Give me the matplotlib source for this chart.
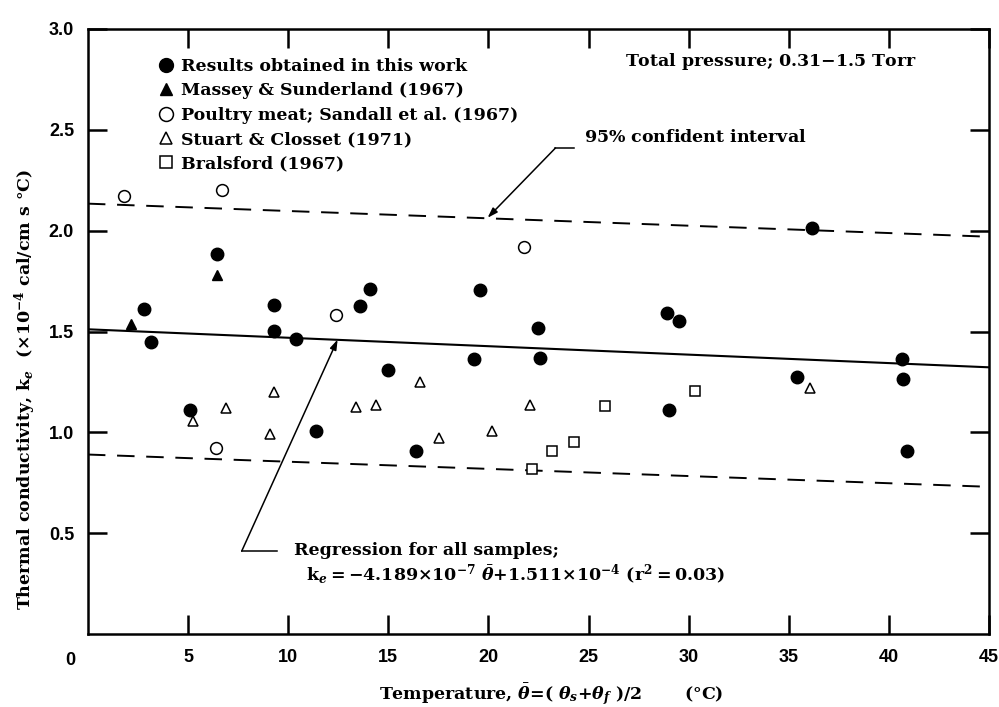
import matplotlib
matplotlib.use("Agg")
import matplotlib.pyplot as plt
import numpy as np
from matplotlib.lines import Line2D

# --- data ---
# results obtained in this work (filled circles)
res_x = [2.8, 3.15, 5.1, 6.44, 9.27, 9.27, 10.38, 11.4, 13.6, 14.07, 15.0, 16.4,
         19.3, 19.57, 22.5, 22.56, 28.94, 29.04, 29.54, 35.43, 36.18, 40.67, 40.72, 40.92]
res_y = [1.614, 1.446, 1.11, 1.886, 1.63, 1.505, 1.465, 1.005, 1.625, 1.713, 1.31, 0.91,
         1.366, 1.708, 1.515, 1.37, 1.594, 1.11, 1.554, 1.272, 2.015, 1.366, 1.267, 0.906]

# Massey & Sunderland (filled triangles)
mas_x = [2.15, 6.44]
mas_y = [1.535, 1.78]

# Poultry meat; Sandall et al. (open circles)
pou_x = [1.8, 6.4, 6.69, 12.4, 21.8]
pou_y = [2.173, 0.92, 2.2, 1.584, 1.92]

# Stuart & Closset (open triangles)
stu_x = [5.27, 6.9, 9.1, 9.3, 13.4, 14.4, 16.6, 17.55, 20.2, 22.1, 36.08]
stu_y = [1.054, 1.12, 0.99, 1.2, 1.124, 1.134, 1.25, 0.97, 1.005, 1.134, 1.218]

# Bralsford (open squares)
bra_x = [22.2, 23.2, 24.25, 25.8, 30.3]
bra_y = [0.82, 0.91, 0.95, 1.13, 1.203]

# regression  k_e = -4.189e-7*theta + 1.511e-4  (in units of 1e-4)
reg_slope = -4.189e-3
reg_icpt = 1.511

# 95% confidence band end points (x = 0 and x = 45)
band_x = [0, 45]
band_upper = [2.134, 1.97]
band_lower = [0.89, 0.73]

xticks = [5, 10, 15, 20, 25, 30, 35, 40, 45]
yticks = [0.5, 1.0, 1.5, 2.0, 2.5, 3.0]

FONT = ["DejaVu Serif"]
TICKFONT = ["Liberation Sans", "DejaVu Sans"]
FS = 12.5
plt.rcParams["font.family"] = FONT
plt.rcParams["font.weight"] = "bold"
plt.rcParams["mathtext.fontset"] = "dejavuserif"

fig = plt.figure(figsize=(9.99, 7.07), dpi=100)
ax = fig.add_axes([0.088, 0.1032, 0.902, 0.8558])

ax.set_xlim(0, 45)
ax.set_ylim(0, 3.0)

xr = np.array(band_x)
ax.plot(xr, reg_icpt + reg_slope * xr, color="black", lw=1.5)
ax.plot(band_x, band_upper, color="black", lw=1.4, dashes=(9, 6))
ax.plot(band_x, band_lower, color="black", lw=1.4, dashes=(9, 6))

ax.plot(res_x, res_y, "o", color="black", ms=9, ls="none")
ax.plot(mas_x, mas_y, "^", color="black", ms=7, ls="none")
ax.plot(pou_x, pou_y, "o", mfc="white", mec="black", mew=1.1, ms=8.5, ls="none")
ax.plot(stu_x, stu_y, "^", mfc="white", mec="black", mew=1.1, ms=7.5, ls="none")
ax.plot(bra_x, bra_y, "s", mfc="white", mec="black", mew=1.1, ms=7, ls="none")

# legend
handles = [
    Line2D([], [], marker="o", color="black", ls="none", ms=10),
    Line2D([], [], marker="^", color="black", ls="none", ms=8),
    Line2D([], [], marker="o", mfc="white", mec="black", mew=1.1, ls="none", ms=10),
    Line2D([], [], marker="^", mfc="white", mec="black", mew=1.1, ls="none", ms=8.5),
    Line2D([], [], marker="s", mfc="white", mec="black", mew=1.1, ls="none", ms=8.5),
]
labels = ["Results obtained in this work",
          "Massey & Sunderland (1967)",
          "Poultry meat; Sandall et al. (1967)",
          "Stuart & Closset (1971)",
          "Bralsford (1967)"]
ax.legend(handles, labels, loc="upper left", bbox_to_anchor=(0.08, 0.952),
          frameon=False, fontsize=FS, handlelength=0.7, handletextpad=0.5,
          labelspacing=0.42, borderpad=0, borderaxespad=0)

# annotations
ax.text(26.8, 2.84, "Total pressure; 0.31$-$1.5 Torr", fontsize=FS, va="center")

ax.text(24.75, 2.46, "95$\\%$ confident interval", fontsize=FS, va="center")
ax.plot([24.25, 23.35], [2.41, 2.41], color="black", lw=1.1)
ax.annotate("", xy=(19.96, 2.064), xytext=(23.35, 2.41),
            arrowprops=dict(arrowstyle="-|>,head_length=0.6,head_width=0.2",
                            color="black", lw=1.1, shrinkA=0, shrinkB=0))

ax.text(10.28, 0.416, "Regression for all samples;", fontsize=FS, va="center")
ax.text(10.88, 0.30,
        "k$_e$$=$$-$4.189$\\times$10$^{-7}$ $\\bar{\\theta}$$+$1.511$\\times$10$^{-4}$ "
        "(r$^2$$=$0.03)", fontsize=FS, va="center")
ax.plot([9.43, 7.68], [0.411, 0.411], color="black", lw=1.1)
ax.annotate("", xy=(12.47, 1.46), xytext=(7.68, 0.411),
            arrowprops=dict(arrowstyle="-|>,head_length=0.6,head_width=0.2",
                            color="black", lw=1.1, shrinkA=0, shrinkB=0))

# axes styling
ax.set_xticks(xticks)
ax.set_yticks(yticks)
ax.set_xticklabels([str(t) for t in xticks], family=TICKFONT)
ax.set_yticklabels(["%.1f" % t for t in yticks], family=TICKFONT)
ax.tick_params(direction="in", length=14, width=1.8, top=True, right=True,
               labelsize=13, pad=11)
ax.tick_params(axis="y", pad=10)
for s in ax.spines.values():
    s.set_linewidth(1.8)
ax.text(-0.9, -0.03, "0", transform=ax.get_xaxis_transform(), ha="center",
        va="top", fontsize=13, family=TICKFONT)

ax.text(0.514, -0.10, "Temperature, $\\bar{\\theta}$=( $\\theta_s$+$\\theta_f$ )/2       (°C)",
        transform=ax.transAxes, ha="center", va="center", fontsize=FS)
ax.text(-0.07, 0.405, "Thermal conductivity, k$_e$  (×10$^{-4}$ cal/cm s °C)",
        transform=ax.transAxes, ha="center", va="center", rotation=90, fontsize=FS)

fig.savefig("out.png", dpi=100)
